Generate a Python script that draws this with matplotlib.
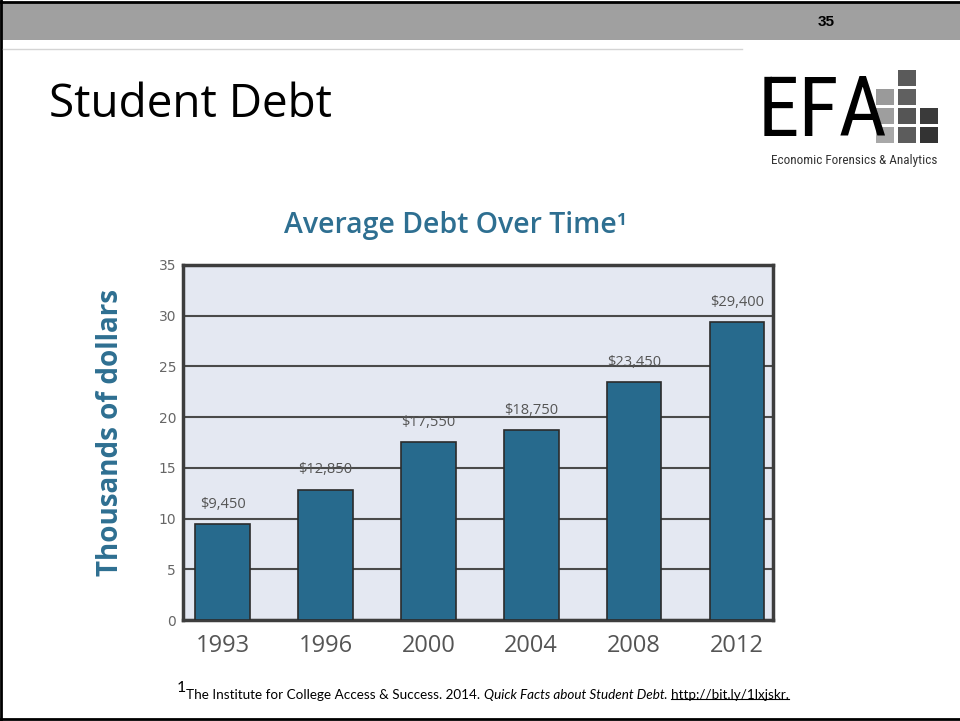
import matplotlib.pyplot as plt
from matplotlib import font_manager
from matplotlib.patches import Rectangle
from matplotlib.lines import Line2D

years = ['1993', '1996', '2000', '2004', '2008', '2012']
debt = [9.45, 12.85, 17.55, 18.75, 23.45, 29.4]   # thousands of dollars
debt_labels = ['$9,450', '$12,850', '$17,550', '$18,750', '$23,450', '$29,400']
yticks = [0, 5, 10, 15, 20, 25, 30, 35]

W, H = 960, 721
BAR = '#276a8d'
TEAL = '#2e6f91'


def fx(x):
    return x / W


def fy(y):
    return 1 - y / H


def narrow_font():
    # pick a condensed face if one is installed, else plain Liberation Sans
    prefs = ['Liberation Sans Narrow', 'Roboto Condensed', 'Open Sans Condensed',
             'Noto Sans', 'DejaVu Sans', 'Roboto', 'Open Sans']
    found = {}
    for f in font_manager.fontManager.ttflist:
        if f.style != 'normal' or f.weight not in (400, 'normal', 'regular'):
            continue
        narrow = ('Narrow' in f.name or 'Condensed' in f.name
                  or f.stretch in ('condensed', 'semi-condensed'))
        if narrow:
            found.setdefault(f.name, f.stretch)
    for name in prefs:
        if name in found:
            return name, found[name]
    return 'Liberation Sans', 'normal'


NARROW, STRETCH = narrow_font()


def fit_width(t, target):
    bb = t.get_window_extent(renderer)
    t.set_fontsize(t.get_fontsize() * target / bb.width)


fig = plt.figure(figsize=(9.6, 7.21), dpi=100)
fig.patch.set_facecolor('white')
renderer = fig.canvas.get_renderer()

# slide frame, header band and rule
fig.add_artist(Rectangle((0, fy(40)), 1, fy(3) - fy(40), transform=fig.transFigure,
                         color='#a0a0a0', lw=0))
fig.add_artist(Line2D([fx(1), fx(1)], [fy(0), fy(720)], transform=fig.transFigure,
                      color='black', lw=2))
fig.add_artist(Line2D([0, 1], [fy(1.5), fy(1.5)], transform=fig.transFigure,
                      color='black', lw=2))
fig.add_artist(Line2D([0, 1], [fy(719), fy(719)], transform=fig.transFigure,
                      color='black', lw=2))
fig.add_artist(Line2D([fx(3), fx(742)], [fy(49), fy(49)], transform=fig.transFigure,
                      color='#d4d4d4', lw=1))
fig.text(fx(826), fy(22), '35', ha='center', va='center', fontsize=11,
         fontweight='bold', family='Liberation Sans')

fig.text(fx(49), fy(117), 'Student Debt', ha='left', va='baseline', fontsize=33,
         family='Open Sans', color='black')

# EFA logo
squares = [(0, 1, '#5a5a5a'),
           (1, 0, '#9a9a9a'), (1, 1, '#606060'),
           (2, 0, '#9e9e9e'), (2, 1, '#555555'), (2, 2, '#3a3a3a'),
           (3, 0, '#a8a8a8'), (3, 1, '#5c5c5c'), (3, 2, '#333333')]
for row, col, c in squares:
    x0 = 876 + col * 22
    y0 = 70 + row * 19
    fig.add_artist(Rectangle((fx(x0), fy(y0 + 16)), fx(18), 16 / H,
                             transform=fig.transFigure, color=c, lw=0))
efa = fig.text(fx(758), fy(136), 'EFA', ha='left', va='baseline', fontsize=68,
               family=NARROW, fontstretch=STRETCH, color='black')
if efa.get_window_extent(renderer).width > 130:
    fit_width(efa, 130)
tag = fig.text(fx(771), fy(158), 'Economic Forensics & Analytics', ha='left',
               va='baseline', fontsize=7, family=NARROW, fontstretch=STRETCH,
               color='#333333')
fit_width(tag, 168)
# keep the tagline's box clear of the letters' box
gap = tag.get_window_extent(renderer).y1 - efa.get_window_extent(renderer).y0
if gap > 0:
    tag.set_y(tag.get_position()[1] - (gap + 1) / H)

# chart
ax = fig.add_axes([fx(183), fy(620), fx(773) - fx(183), (620 - 265) / H])
ax.set_facecolor('#e4e8f2')
x = list(range(len(years)))
ax.set_axisbelow(True)
ax.yaxis.grid(True, color='#4a4a4a', lw=1.5)
ax.bar(x, debt, width=0.53, color=BAR, edgecolor='#2b2b2b', lw=1.2, zorder=3)
for xi, v, lab in zip(x, debt, debt_labels):
    ax.text(xi, v + 1.2, lab, ha='center', va='bottom', fontsize=10.5,
            color='#555555', family='Open Sans')
ax.set_xlim(-0.385, 5.35)
ax.set_ylim(0, 35)
ax.set_yticks(yticks)
ax.set_xticks(x)
ax.set_xticklabels(years, fontsize=17, color='#555555', family='Open Sans')
ax.tick_params(axis='x', length=0, pad=10)
ax.tick_params(axis='y', length=0, pad=5, labelsize=10, labelcolor='#666666')
for spine in ax.spines.values():
    spine.set_color('#3d3d3d')
    spine.set_linewidth(2.5)
ax.set_ylabel('Thousands of dollars', fontsize=20, fontweight='bold', color=TEAL,
              family='Open Sans')
ax.yaxis.set_label_coords(-0.098, 0.527)

fig.text(fx(455), fy(225), 'Average Debt Over Time¹', ha='center', va='center',
         fontsize=20.5, fontweight='semibold', color=TEAL, family='Open Sans')

# footnote with superscript, italic title and underlined link
note = fig.add_axes([0, 0, 1, 1], zorder=-1)
note.axis('off')
t0 = note.text(fx(177), fy(692), '1', ha='left', va='baseline', fontsize=11.5,
               family='Lato', color='black', transform=note.transAxes)
t1 = note.annotate('The Institute for College Access & Success. 2014. ', xy=(1, 0),
                   xycoords=t0, xytext=(0, -4), textcoords='offset points',
                   ha='left', va='bottom', fontsize=9.7, family='Lato')
t2 = note.annotate('Quick Facts about Student Debt', xy=(1, 0), xycoords=t1,
                   ha='left', va='bottom', fontsize=9.7, family='Lato', style='italic')
t3 = note.annotate('. ', xy=(1, 0), xycoords=t2, ha='left', va='bottom',
                   fontsize=9.7, family='Lato')
t4 = note.annotate('http://bit.ly/1lxjskr.', xy=(1, 0), xycoords=t3, ha='left',
                   va='bottom', fontsize=9.7, family='Lato')
fig.canvas.draw()
bb = t4.get_window_extent()
fig.add_artist(Line2D([bb.x0 / W, bb.x1 / W], [(bb.y0 + 2) / H, (bb.y0 + 2) / H],
                      transform=fig.transFigure, color='black', lw=0.8))

fig.savefig('out.png', dpi=100)
